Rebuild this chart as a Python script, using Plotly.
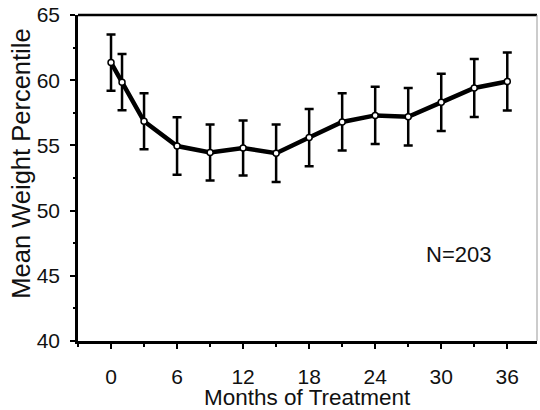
import plotly.graph_objects as go

months = [0, 1, 3, 6, 9, 12, 15, 18, 21, 24, 27, 30, 33, 36]
mean_pct = [61.35, 59.85, 56.85, 54.95, 54.45, 54.8, 54.4, 55.6, 56.8, 57.3, 57.2, 58.3, 59.4, 59.9]
err = [2.15, 2.15, 2.15, 2.2, 2.15, 2.1, 2.2, 2.2, 2.2, 2.2, 2.2, 2.2, 2.23, 2.22]
x_ticks = [0, 6, 12, 18, 24, 30, 36]
y_ticks = [40, 45, 50, 55, 60, 65]
annotation_text = "N=203"
x_title = "Months of Treatment"
y_title = "Mean Weight Percentile"

FONT = "Liberation Sans, Arial, sans-serif"

fig = go.Figure()
fig.add_trace(go.Scatter(
    x=months, y=mean_pct,
    mode="lines+markers",
    line=dict(color="black", width=4.5),
    marker=dict(symbol="circle", size=6, color="white", line=dict(color="black", width=1.5)),
    error_y=dict(type="data", array=err, visible=True, color="black", thickness=2.5, width=4.5),
    showlegend=False,
))

fig.add_annotation(x=31.6, y=46.6, text=annotation_text, showarrow=False,
                   font=dict(family=FONT, size=22, color="#111"))

# axis titles
fig.add_annotation(xref="paper", yref="paper", x=0.5, y=0, yanchor="middle",
                   yshift=-56.5, text=x_title, showarrow=False,
                   font=dict(family=FONT, size=22.5, color="#111"))
fig.add_annotation(xref="paper", yref="paper", x=0, y=0.544, xanchor="center",
                   xshift=-57, textangle=-90, text=y_title, showarrow=False,
                   font=dict(family=FONT, size=25.5, color="#111"))

# top and right frame lines
fig.add_shape(type="line", xref="x domain", yref="y domain", x0=0, x1=1, y0=1, y1=1,
              line=dict(color="black", width=2.5))
fig.add_shape(type="line", xref="x domain", yref="y domain", x0=1, x1=1, y0=0, y1=1,
              line=dict(color="#999", width=1))

fig.update_layout(
    width=540, height=410,
    margin=dict(l=78, r=3, t=15, b=69),
    paper_bgcolor="white", plot_bgcolor="white",
    font=dict(family=FONT, size=21, color="#111"),
)
fig.update_xaxes(
    range=[-3, 38.7], tickvals=x_ticks, ticktext=[str(v) for v in x_ticks],
    showgrid=False, zeroline=False,
    showline=True, linecolor="black", linewidth=2.5,
    ticks="outside", ticklen=5, tickwidth=2, tickcolor="black",
    minor=dict(dtick=3, tick0=0, ticks="outside", ticklen=3, tickwidth=1.5, tickcolor="black"),
    tickfont=dict(size=21), ticklabelstandoff=10,
)
fig.update_yaxes(
    range=[40, 65], tickvals=y_ticks, ticktext=[str(v) for v in y_ticks],
    showgrid=False, zeroline=False,
    showline=True, linecolor="black", linewidth=2.5,
    ticks="outside", ticklen=5, tickwidth=2, tickcolor="black",
    minor=dict(dtick=2.5, tick0=40, ticks="outside", ticklen=2, tickwidth=1.5, tickcolor="black"),
    tickfont=dict(size=21), ticklabelstandoff=6,
)

fig.write_html("out.html", config={"displayModeBar": False},
               post_script="document.body.style.margin='0';")
